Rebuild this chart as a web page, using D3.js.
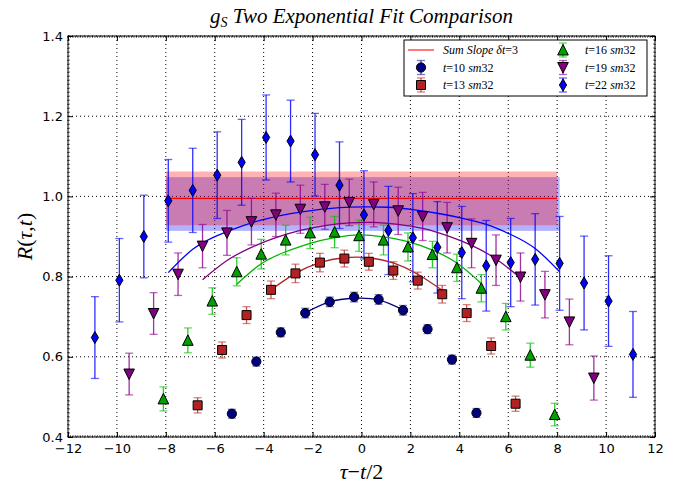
<!DOCTYPE html>
<html>
<head>
<meta charset="utf-8">
<script src="https://cdn.jsdelivr.net/npm/d3@7"></script>
<style>
  body { margin: 0; background: #fff; }
  svg { display: block; }
  .tick text { font-family: "DejaVu Sans", sans-serif; font-size: 13px; fill: #000; }
  .math { font-family: "Liberation Serif", "DejaVu Serif", serif; font-style: italic; fill: #000; }
</style>
</head>
<body>
<svg id="chart"></svg>
<script>
// ---------------- data ----------------
var xTicks = [-12, -10, -8, -6, -4, -2, 0, 2, 4, 6, 8, 10, 12];
var yTicks = [0.4, 0.6, 0.8, 1.0, 1.2, 1.4];

// t = 10 (circles)
var x10 = [-5.3, -4.3, -3.3, -2.3, -1.3, -0.3, 0.7, 1.7, 2.7, 3.7, 4.7];
var y10 = [0.458, 0.588, 0.661, 0.709, 0.737, 0.749, 0.743, 0.716, 0.669, 0.593, 0.460];
var e10 = [0.011, 0.011, 0.011, 0.012, 0.012, 0.012, 0.012, 0.012, 0.011, 0.011, 0.011];

// t = 13 (squares)
var x13 = [-6.7, -5.7, -4.7, -3.7, -2.7, -1.7, -0.7, 0.3, 1.3, 2.3, 3.3, 4.3, 5.3, 6.3];
var y13 = [0.479, 0.617, 0.704, 0.767, 0.808, 0.835, 0.845, 0.837, 0.815, 0.790, 0.756, 0.709, 0.627, 0.483];
var e13 = [0.019, 0.020, 0.021, 0.022, 0.023, 0.023, 0.021, 0.021, 0.022, 0.021, 0.022, 0.021, 0.020, 0.019];

// t = 16 (triangles)
var x16 = [-8.1, -7.1, -6.1, -5.1, -4.1, -3.1, -2.1, -1.1, -0.1, 0.9, 1.9, 2.9, 3.9, 4.9, 5.9, 6.9, 7.9];
var y16 = [0.495, 0.641, 0.739, 0.812, 0.856, 0.891, 0.909, 0.911, 0.902, 0.891, 0.874, 0.855, 0.822, 0.771, 0.700, 0.604, 0.456];
var e16 = [0.030, 0.031, 0.033, 0.035, 0.037, 0.037, 0.039, 0.039, 0.039, 0.037, 0.035, 0.033, 0.034, 0.034, 0.033, 0.030, 0.028];

// t = 19 (down triangles)
var x19 = [-9.5, -8.5, -7.5, -6.5, -5.5, -4.5, -3.5, -2.5, -1.5, -0.5, 0.5, 1.5, 2.5, 3.5, 4.5, 5.5, 6.5, 7.5, 8.5, 9.5];
var y19 = [0.557, 0.708, 0.806, 0.876, 0.909, 0.937, 0.954, 0.968, 0.974, 0.985, 0.980, 0.964, 0.950, 0.922, 0.883, 0.841, 0.799, 0.755, 0.687, 0.547];
var e19 = [0.052, 0.052, 0.053, 0.054, 0.056, 0.058, 0.054, 0.060, 0.056, 0.058, 0.056, 0.059, 0.060, 0.063, 0.061, 0.063, 0.060, 0.058, 0.057, 0.055];

// t = 22 (diamonds)
var x22 = [-10.9, -9.9, -8.9, -7.9, -6.9, -5.9, -4.9, -3.9, -2.9, -1.9, -0.9, 0.1, 1.1, 2.1, 3.1, 4.1, 5.1, 6.1, 7.1, 8.1, 9.1, 10.1, 11.1];
var y22 = [0.648, 0.791, 0.900, 0.989, 1.015, 1.053, 1.085, 1.147, 1.138, 1.104, 1.028, 0.954, 0.915, 0.897, 0.873, 0.860, 0.827, 0.835, 0.843, 0.833, 0.784, 0.739, 0.606];
var e22 = [0.102, 0.104, 0.103, 0.103, 0.105, 0.108, 0.107, 0.106, 0.102, 0.103, 0.108, 0.110, 0.110, 0.110, 0.114, 0.115, 0.113, 0.110, 0.114, 0.117, 0.117, 0.113, 0.107];

// fit curves
var fit10x = [-2.3, -1.3, -0.3, 0.7, 1.7];
var fit10y = [0.710, 0.737, 0.746, 0.742, 0.717];
var fit13x = [-3.7, -2.7, -1.7, -0.7, 0.3, 1.3, 2.3, 3.3];
var fit13y = [0.767, 0.808, 0.835, 0.847, 0.847, 0.834, 0.806, 0.766];
var fit16x = [-5.1, -4.1, -3.1, -2.1, -1.1, -0.1, 0.9, 1.9, 2.9, 3.9, 4.9];
var fit16y = [0.781, 0.832, 0.862, 0.883, 0.897, 0.904, 0.899, 0.887, 0.866, 0.834, 0.783];
var fit19x = [-6.5, -5.5, -4.5, -3.5, -2.5, -1.5, -0.5, 0.5, 1.5, 2.5, 3.5, 4.5, 5.5, 6.5];
var fit19y = [0.792, 0.840, 0.873, 0.897, 0.915, 0.927, 0.934, 0.935, 0.930, 0.920, 0.902, 0.878, 0.844, 0.797];
var fit22x = [-7.9, -6.9, -5.9, -4.9, -3.9, -2.9, -1.9, -0.9, 0.1, 1.1, 2.1, 3.1, 4.1, 5.1, 6.1, 7.1, 8.1];
var fit22y = [0.810, 0.868, 0.902, 0.926, 0.944, 0.957, 0.966, 0.972, 0.974, 0.973, 0.967, 0.958, 0.946, 0.930, 0.905, 0.870, 0.812];

// sum slope band (red) and t=22 band (blue)
var sumSlopeX = [-8, 8];
var sumSlopeY = 0.995;
var sumSlopeBand = [0.928, 1.062];
var blueBandX = [-8, 8.1];
var blueBand = [0.914, 1.048];

var seriesNames = ["10", "13", "16", "19", "22"];

// ---------------- layout ----------------
var W = 678, H = 485;
var margin = {top: 36, right: 23, bottom: 48, left: 68};
var width = W - margin.left - margin.right,
    height = H - margin.top - margin.bottom;

var svg = d3.select("#chart").attr("width", W).attr("height", H);
var g = svg.append("g").attr("transform", "translate(" + margin.left + "," + margin.top + ")");

var x = d3.scaleLinear().domain([-12, 12]).range([0, width]);
var y = d3.scaleLinear().domain([0.4, 1.4]).range([height, 0]);

// series styling
var series = [
  {name: seriesNames[0], xs: x10, ys: y10, es: e10, fx: fit10x, fy: fit10y, shape: "o", fill: "#000080", line: "#000080", err: "#2020a0"},
  {name: seriesNames[1], xs: x13, ys: y13, es: e13, fx: fit13x, fy: fit13y, shape: "s", fill: "#b22222", line: "#b22222", err: "#c0302f"},
  {name: seriesNames[2], xs: x16, ys: y16, es: e16, fx: fit16x, fy: fit16y, shape: "^", fill: "#00a000", line: "#00b400", err: "#00c000"},
  {name: seriesNames[3], xs: x19, ys: y19, es: e19, fx: fit19x, fy: fit19y, shape: "v", fill: "#800080", line: "#800080", err: "#900090"},
  {name: seriesNames[4], xs: x22, ys: y22, es: e22, fx: fit22x, fy: fit22y, shape: "d", fill: "#0000ff", line: "#0000ff", err: "#0000ff"}
];

function markerPath(shape) {
  if (shape == "o") return "M4.6,0A4.6,4.6 0 1,1 -4.6,0A4.6,4.6 0 1,1 4.6,0Z";
  if (shape == "s") return "M-4.5,-4.5H4.5V4.5H-4.5Z";
  if (shape == "^") return "M0,-5.5L5.3,5L-5.3,5Z";
  if (shape == "v") return "M0,5.5L5.3,-5L-5.3,-5Z";
  if (shape == "d") return "M0,-6L3.6,0L0,6L-3.6,0Z";
}

// ---------------- grid ----------------
var grid = g.append("g").attr("class", "grid");
grid.selectAll("line.gx").data(xTicks).enter().append("line")
  .attr("x1", d => x(d)).attr("x2", d => x(d))
  .attr("y1", 0).attr("y2", height)
  .attr("stroke", "#000").attr("stroke-width", 1).attr("stroke-dasharray", "1,3");
grid.selectAll("line.gy").data(yTicks).enter().append("line")
  .attr("y1", d => y(d)).attr("y2", d => y(d))
  .attr("x1", 0).attr("x2", width)
  .attr("stroke", "#000").attr("stroke-width", 1).attr("stroke-dasharray", "1,3");

// ---------------- bands ----------------
g.append("rect")
  .attr("x", x(blueBandX[0])).attr("width", x(blueBandX[1]) - x(blueBandX[0]))
  .attr("y", y(blueBand[1])).attr("height", y(blueBand[0]) - y(blueBand[1]))
  .attr("fill", "#0000ff").attr("fill-opacity", 0.3);
g.append("rect")
  .attr("x", x(sumSlopeX[0])).attr("width", x(sumSlopeX[1]) - x(sumSlopeX[0]))
  .attr("y", y(sumSlopeBand[1])).attr("height", y(sumSlopeBand[0]) - y(sumSlopeBand[1]))
  .attr("fill", "#ff0000").attr("fill-opacity", 0.3);
g.append("line")
  .attr("x1", x(sumSlopeX[0])).attr("x2", x(sumSlopeX[1]))
  .attr("y1", y(sumSlopeY)).attr("y2", y(sumSlopeY))
  .attr("stroke", "#ff0000").attr("stroke-width", 1.2);

// ---------------- error bars ----------------
series.forEach(function(s) {
  var eg = g.append("g").attr("stroke", s.err).attr("stroke-width", 1.3);
  s.xs.forEach(function(xv, i) {
    var cx = x(xv), top = y(s.ys[i] + s.es[i]), bot = y(s.ys[i] - s.es[i]);
    eg.append("line").attr("x1", cx).attr("x2", cx).attr("y1", top).attr("y2", bot).attr("stroke-opacity", 0.82);
    eg.append("line").attr("x1", cx - 4).attr("x2", cx + 4).attr("y1", top).attr("y2", top).attr("stroke-opacity", 0.6);
    eg.append("line").attr("x1", cx - 4).attr("x2", cx + 4).attr("y1", bot).attr("y2", bot).attr("stroke-opacity", 0.6);
  });
});

// ---------------- fit curves ----------------
var lineGen = d3.line().x(d => x(d[0])).y(d => y(d[1])).curve(d3.curveNatural);
series.forEach(function(s) {
  g.append("path")
    .datum(d3.zip(s.fx, s.fy))
    .attr("d", lineGen)
    .attr("fill", "none").attr("stroke", s.line).attr("stroke-width", 1.3);
});

// ---------------- markers ----------------
series.forEach(function(s) {
  g.append("g").selectAll("path")
    .data(d3.zip(s.xs, s.ys))
    .enter().append("path")
    .attr("d", markerPath(s.shape))
    .attr("transform", d => "translate(" + x(d[0]) + "," + y(d[1]) + ")")
    .attr("fill", s.fill).attr("stroke", "#000").attr("stroke-width", 1);
});

// ---------------- axes ----------------
var fmtY = d3.format(".1f");
var axB = g.append("g").attr("transform", "translate(0," + height + ")")
  .call(d3.axisBottom(x).tickValues(xTicks).tickSizeInner(-5).tickSizeOuter(0).tickPadding(7));
var axT = g.append("g")
  .call(d3.axisTop(x).tickValues(xTicks).tickSizeInner(-5).tickSizeOuter(0).tickFormat(""));
var axL = g.append("g")
  .call(d3.axisLeft(y).tickValues(yTicks).tickSizeInner(-5).tickSizeOuter(0).tickPadding(5).tickFormat(fmtY));
var axR = g.append("g").attr("transform", "translate(" + width + ",0)")
  .call(d3.axisRight(y).tickValues(yTicks).tickSizeInner(-5).tickSizeOuter(0).tickFormat(""));
[axB, axT, axL, axR].forEach(function(a) {
  a.select(".domain").remove();
  a.selectAll(".tick line").attr("stroke", "#000");
  a.selectAll(".tick text").attr("font-family", null).attr("font-size", null);
});

// minor ticks
var minorX = d3.range(-12, 12.001, 0.1);
var minorY = d3.range(0.4, 1.4001, 0.01);
var mg = g.append("g").attr("stroke", "#000").attr("stroke-width", 0.6);
minorX.forEach(function(v) {
  mg.append("line").attr("x1", x(v)).attr("x2", x(v)).attr("y1", height).attr("y2", height - 2);
  mg.append("line").attr("x1", x(v)).attr("x2", x(v)).attr("y1", 0).attr("y2", 2);
});
minorY.forEach(function(v) {
  mg.append("line").attr("y1", y(v)).attr("y2", y(v)).attr("x1", 0).attr("x2", 2);
  mg.append("line").attr("y1", y(v)).attr("y2", y(v)).attr("x1", width).attr("x2", width - 2);
});

// frame
g.append("rect").attr("width", width).attr("height", height)
  .attr("fill", "none").attr("stroke", "#000").attr("stroke-width", 1);

// ---------------- texts ----------------
var title = svg.append("text").attr("class", "math")
  .attr("x", margin.left + width / 2).attr("y", 23)
  .attr("text-anchor", "middle").attr("font-size", 21);
title.append("tspan").text("g");
title.append("tspan").attr("font-size", 14).attr("dy", 4).text("S");
title.append("tspan").attr("dy", -4).text(" Two Exponential Fit Comparison");

var xl = svg.append("text").attr("class", "math")
  .attr("x", margin.left + width / 2).attr("y", 479)
  .attr("text-anchor", "middle").attr("font-size", 22);
xl.append("tspan").text("τ");
xl.append("tspan").attr("font-style", "normal").text("−");
xl.append("tspan").text("t");
xl.append("tspan").attr("font-style", "normal").text("/2");

var yl = svg.append("text").attr("class", "math")
  .attr("transform", "translate(32," + (margin.top + height / 2) + ") rotate(-90)")
  .attr("text-anchor", "middle").attr("font-size", 22);
yl.append("tspan").text("R");
yl.append("tspan").attr("font-style", "normal").text("(");
yl.append("tspan").text("τ");
yl.append("tspan").attr("font-style", "normal").text(",");
yl.append("tspan").text("t");
yl.append("tspan").attr("font-style", "normal").text(")");

// ---------------- legend ----------------
var lg = svg.append("g");
lg.append("rect").attr("x", 404).attr("y", 40).attr("width", 243).attr("height", 56)
  .attr("fill", "#fff").attr("stroke", "#000").attr("stroke-width", 1);

var legendRows = [
  {col: 0, row: 0, s: null},
  {col: 0, row: 1, s: series[0]},
  {col: 0, row: 2, s: series[1]},
  {col: 1, row: 0, s: series[2]},
  {col: 1, row: 1, s: series[3]},
  {col: 1, row: 2, s: series[4]}
];
legendRows.forEach(function(r) {
  var mx = r.col == 0 ? 421 : 563;
  var tx = r.col == 0 ? 443 : 585;
  var ry = 50 + r.row * 17.5;
  if (r.s == null) {
    lg.append("line").attr("x1", mx - 13).attr("x2", mx + 13).attr("y1", ry).attr("y2", ry)
      .attr("stroke", "#ff0000").attr("stroke-opacity", 0.7).attr("stroke-width", 1.5);
    var t0 = lg.append("text").attr("class", "math").attr("x", tx).attr("y", ry + 4).attr("font-size", 12);
    t0.append("tspan").text("Sum Slope δ");
    t0.append("tspan").text("t");
    t0.append("tspan").attr("font-style", "normal").text("=3");
  } else {
    var s = r.s;
    lg.append("line").attr("x1", mx).attr("x2", mx).attr("y1", ry - 7).attr("y2", ry + 7)
      .attr("stroke", s.err).attr("stroke-opacity", 0.82).attr("stroke-width", 1.3);
    lg.append("line").attr("x1", mx - 4).attr("x2", mx + 4).attr("y1", ry - 7).attr("y2", ry - 7)
      .attr("stroke", s.err).attr("stroke-opacity", 0.6).attr("stroke-width", 1.3);
    lg.append("line").attr("x1", mx - 4).attr("x2", mx + 4).attr("y1", ry + 7).attr("y2", ry + 7)
      .attr("stroke", s.err).attr("stroke-opacity", 0.6).attr("stroke-width", 1.3);
    lg.append("path").attr("d", markerPath(s.shape)).attr("transform", "translate(" + mx + "," + ry + ")")
      .attr("fill", s.fill).attr("stroke", "#000").attr("stroke-width", 1);
    var t1 = lg.append("text").attr("class", "math").attr("x", tx).attr("y", ry + 4).attr("font-size", 12);
    t1.append("tspan").text("t");
    t1.append("tspan").attr("font-style", "normal").text("=" + s.name + " ");
    t1.append("tspan").text("sm");
    t1.append("tspan").attr("font-style", "normal").text("32");
  }
});
</script>
</body>
</html>
